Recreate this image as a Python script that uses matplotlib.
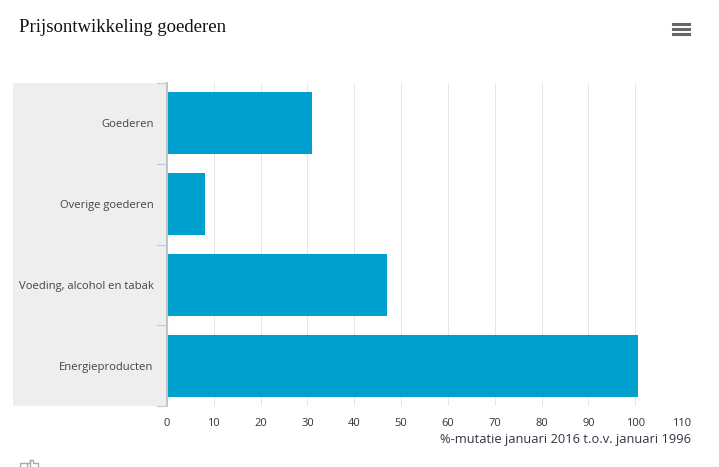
import matplotlib

matplotlib.use('agg')
import matplotlib.pyplot as plt
from matplotlib.lines import Line2D
from matplotlib.patches import Rectangle

categories = ['Goederen', 'Overige goederen', 'Voeding, alcohol en tabak', 'Energieproducten']
values = [31, 8.1, 47, 100.6]
x_ticks = [0, 10, 20, 30, 40, 50, 60, 70, 80, 90, 100, 110]

W, H = 719, 467
fig = plt.figure(figsize=(W / 100, H / 100), dpi=100)
plt.rcParams['font.family'] = ['Open Sans', 'DejaVu Sans']

# axes box in pixels: x 167-682, y 83-406
ax = fig.add_axes([167 / W, 1 - 406 / H, (682 - 167) / W, (406 - 83) / H])
ax.barh(range(len(values)), values, height=0.765, color='#00A0CE', zorder=3)
ax.set_ylim(len(values) - 0.5, -0.5)
ax.set_xlim(0, 110)
ax.grid(axis='x', color='#e6e6e6', linewidth=0.72, zorder=1)
ax.set_axisbelow(True)

for side in ['top', 'right', 'bottom']:
    ax.spines[side].set_visible(False)
ax.spines['left'].set_color('#c4c4c4')
ax.spines['left'].set_linewidth(1.5)
ax.spines['left'].set_zorder(5)

ax.set_xticks(x_ticks)
ax.tick_params(axis='x', length=0, pad=9, labelsize=8, labelcolor='#333333')
ax.set_yticks(range(len(categories)))
ax.set_yticklabels(categories)
ax.tick_params(axis='y', length=0, pad=9.7, labelsize=8.1, labelcolor='#444444')

# grey band behind the category labels
fig.add_artist(Rectangle((13 / W, 1 - 406 / H), 154 / W, 323 / H, transform=fig.transFigure,
                         facecolor='#eeeeee', edgecolor='none', zorder=-1))
for py in [83, 164, 245, 325, 406]:
    fig.add_artist(Line2D([157 / W, 167 / W], [1 - py / H, 1 - py / H], color='#c8c8c8', linewidth=0.8))

fig.text(19 / W, 1 - 27 / H, 'Prijsontwikkeling goederen', family='Liberation Serif', fontsize=13.5,
         color='#111111', va='center', ha='left')
fig.text(691 / W, 1 - 440 / H, '%-mutatie januari 2016 t.o.v. januari 1996', fontsize=9.3,
         color='#333344', va='center', ha='right')

# menu icon
for py in [24, 29, 34]:
    fig.add_artist(Line2D([673 / W, 689 / W], [1 - py / H, 1 - py / H], color='#666666', linewidth=2.2))

# thumb icon, cut off by the lower edge
for xs, ys in [([20, 20, 27, 27], [467, 463, 463, 467]),
               ([27, 30, 30, 33, 33, 38, 38], [463, 463, 460, 460, 463, 463, 467]),
               ([30, 30], [460, 467])]:
    fig.add_artist(Line2D([v / W for v in xs], [1 - v / H for v in ys], color='#aaaaaa', linewidth=1))

fig.savefig('out.png', dpi=100)
